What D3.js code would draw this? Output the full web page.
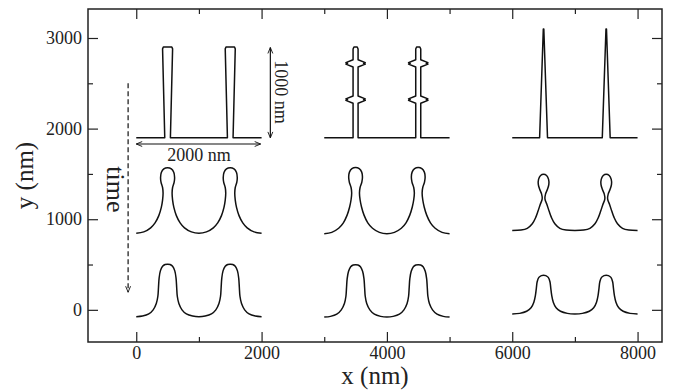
<!DOCTYPE html>
<html>
<head>
<meta charset="utf-8">
<script src="https://cdnjs.cloudflare.com/ajax/libs/d3/7.8.5/d3.min.js"></script>
<style>
  body { margin: 0; background: #fff; }
  svg text { font-family: "Liberation Serif", "Times New Roman", serif; fill: #222; }
</style>
</head>
<body>
<svg id="chart" width="679" height="390"></svg>
<script>
// axis ticks
const xTicks = [0, 2000, 4000, 6000, 8000];
const xMinor = [1000, 3000, 5000, 7000];
const yTicks = [0, 1000, 2000, 3000];
const yMinor = [500, 1500, 2500];

// one period (0..1000 nm) of each profile
// row 1: initial shapes
const taperedPillar = [[0,1900],[455,1900],[420,2880],[432,2900],[568,2900],[580,2880],[545,1900],[1000,1900]];
const notchedPillar = [[0,1900],[460,1900],[460,2280],[345,2312],[372,2320],[345,2328],[460,2360],
  [460,2680],[345,2712],[372,2720],[345,2728],[460,2760],[460,2878],[474,2900],[526,2900],[540,2878],
  [540,2760],[655,2728],[628,2720],[655,2712],[540,2680],[540,2360],[655,2328],[628,2320],[655,2312],
  [540,2280],[540,1900],[1000,1900]];
const spikePillar = [[0,1900],[437,1900],[496,3100],[504,3100],[563,1900],[1000,1900]];
// row 2: necking
const neckLeft = [[0,845],[120,860],[230,905],[300,960],[360,1040],[400,1130],[420,1210],[428,1290],
  [420,1350],[395,1410],[388,1460],[400,1515],[440,1555],[500,1568],[560,1555],[600,1515],[612,1460],
  [605,1410],[580,1350],[572,1290],[580,1210],[600,1130],[640,1040],[700,960],[770,905],[880,860],[1000,845]];
const neckMid = [[0,840],[120,855],[230,900],[305,960],[365,1045],[405,1135],[428,1215],[438,1290],
  [428,1350],[400,1410],[390,1465],[402,1520],[442,1558],[500,1570],[558,1558],[598,1520],[610,1465],
  [600,1410],[572,1350],[562,1290],[572,1215],[595,1135],[635,1045],[695,960],[770,900],[880,855],[1000,840]];
const neckRight = [[0,875],[140,880],[240,900],[320,950],[375,1020],[412,1090],[445,1160],[478,1225],
  [468,1280],[438,1330],[416,1385],[420,1440],[452,1482],[500,1496],[548,1482],[580,1440],[584,1385],
  [562,1330],[532,1280],[522,1225],[555,1160],[588,1090],[625,1020],[680,950],[760,900],[860,880],[1000,875]];
// row 3: mounds
const moundLeft = [[0,-75],[100,-68],[200,-45],[270,0],[320,70],[345,150],[355,250],[365,350],[385,430],
  [420,480],[460,500],[500,503],[540,500],[580,480],[615,430],[635,350],[645,250],[655,150],[680,70],
  [730,0],[800,-45],[900,-68],[1000,-75]];
const moundMid = [[0,-80],[100,-72],[200,-48],[272,0],[322,70],[346,150],[356,250],[366,345],[388,425],
  [422,475],[462,494],[500,497],[538,494],[578,475],[612,425],[634,345],[644,250],[654,150],[678,70],
  [728,0],[800,-48],[900,-72],[1000,-80]];
const moundRight = [[0,-45],[120,-39],[230,-16],[300,22],[345,85],[370,160],[385,240],[398,310],[425,358],
  [465,378],[500,382],[535,378],[575,358],[602,310],[615,240],[630,160],[655,85],[700,22],[770,-16],
  [880,-39],[1000,-45]];

const colOffsets = [0, 3000, 6000];
const periodShift = [0, 1000];

// [profile, column, smooth]
const panels = [
  [taperedPillar, 0, false], [notchedPillar, 1, false], [spikePillar, 2, false],
  [neckLeft, 0, true], [neckMid, 1, true], [neckRight, 2, true],
  [moundLeft, 0, true], [moundMid, 1, true], [moundRight, 2, true]
];

const svg = d3.select("#chart");
const margin = {left: 88, top: 9, right: 17, bottom: 48};
const width = 679 - margin.left - margin.right;
const height = 390 - margin.top - margin.bottom;

const x = d3.scaleLinear().domain([-770, 8390]).range([margin.left, margin.left + width]);
const y = d3.scaleLinear().domain([-355, 3320]).range([margin.top + height, margin.top]);

// markers
const defs = svg.append("defs");
defs.append("marker")
  .attr("id", "head")
  .attr("viewBox", "0 0 10 10")
  .attr("refX", 9.5).attr("refY", 5)
  .attr("markerWidth", 7).attr("markerHeight", 7)
  .attr("markerUnits", "userSpaceOnUse")
  .attr("orient", "auto-start-reverse")
  .append("path")
  .attr("d", "M1,1.5 L9.5,5 L1,8.5")
  .attr("fill", "none").attr("stroke", "#111").attr("stroke-width", 1.3);

// axes
function axisStyle(g) {
  g.select(".domain").remove();
  g.selectAll("line").attr("stroke", "#222").attr("stroke-width", 1.2);
  g.selectAll("text").style("font-size", "18px").attr("fill", "#222");
}
svg.append("g").attr("transform", `translate(0,${margin.top + height})`)
  .call(d3.axisBottom(x).tickValues(xTicks).tickSize(-10).tickPadding(4).tickFormat(d3.format("d")))
  .call(axisStyle);
svg.append("g").attr("transform", `translate(0,${margin.top + height})`)
  .call(d3.axisBottom(x).tickValues(xMinor).tickSize(-5).tickFormat(""))
  .call(axisStyle);
svg.append("g").attr("transform", `translate(0,${margin.top})`)
  .call(d3.axisTop(x).tickValues(xTicks).tickSize(-10).tickFormat(""))
  .call(axisStyle);
svg.append("g").attr("transform", `translate(0,${margin.top})`)
  .call(d3.axisTop(x).tickValues(xMinor).tickSize(-5).tickFormat(""))
  .call(axisStyle);
svg.append("g").attr("transform", `translate(${margin.left},0)`)
  .call(d3.axisLeft(y).tickValues(yTicks).tickSize(-10).tickPadding(6).tickFormat(d3.format("d")))
  .call(axisStyle);
svg.append("g").attr("transform", `translate(${margin.left},0)`)
  .call(d3.axisLeft(y).tickValues(yMinor).tickSize(-5).tickFormat(""))
  .call(axisStyle);
svg.append("g").attr("transform", `translate(${margin.left + width},0)`)
  .call(d3.axisRight(y).tickValues(yTicks).tickSize(-10).tickFormat(""))
  .call(axisStyle);
svg.append("g").attr("transform", `translate(${margin.left + width},0)`)
  .call(d3.axisRight(y).tickValues(yMinor).tickSize(-5).tickFormat(""))
  .call(axisStyle);

svg.append("rect")
  .attr("x", margin.left).attr("y", margin.top)
  .attr("width", width).attr("height", height)
  .attr("fill", "none").attr("stroke", "#222").attr("stroke-width", 1.5);

// curves
const lineSharp = d3.line().x(d => x(d[0])).y(d => y(d[1]));
const lineSmooth = d3.line().x(d => x(d[0])).y(d => y(d[1])).curve(d3.curveCatmullRom.alpha(0.5));

panels.forEach(([profile, col, smooth]) => {
  const pts = [];
  periodShift.forEach((s, i) => {
    profile.forEach((p, j) => {
      if (i > 0 && j === 0) return;
      pts.push([p[0] + colOffsets[col] + s, p[1]]);
    });
  });
  svg.append("path")
    .datum(pts)
    .attr("d", smooth ? lineSmooth : lineSharp)
    .attr("fill", "none")
    .attr("stroke", "#111")
    .attr("stroke-width", 1.5)
    .attr("stroke-linejoin", "round");
});

// annotations
svg.append("line")
  .attr("x1", x(0)).attr("y1", y(1830)).attr("x2", x(1985)).attr("y2", y(1830))
  .attr("stroke", "#111").attr("stroke-width", 1.2)
  .attr("marker-start", "url(#head)").attr("marker-end", "url(#head)");
svg.append("text")
  .attr("x", x(1000)).attr("y", y(1645))
  .attr("text-anchor", "middle").style("font-size", "18px")
  .text("2000 nm");

svg.append("line")
  .attr("x1", x(2140)).attr("y1", y(2895)).attr("x2", x(2140)).attr("y2", y(1898))
  .attr("stroke", "#111").attr("stroke-width", 1.2)
  .attr("marker-start", "url(#head)").attr("marker-end", "url(#head)");
svg.append("text")
  .attr("transform", `translate(${x(2215)},${y(2405)}) rotate(90)`)
  .attr("text-anchor", "middle").style("font-size", "18px")
  .text("1000 nm");

svg.append("line")
  .attr("x1", x(-130)).attr("y1", y(2500)).attr("x2", x(-130)).attr("y2", y(195))
  .attr("stroke", "#111").attr("stroke-width", 1.2)
  .attr("stroke-dasharray", "5,3")
  .attr("marker-end", "url(#head)");
svg.append("text")
  .attr("transform", `translate(${x(-470)},${y(1330)}) rotate(90)`)
  .attr("text-anchor", "middle").style("font-size", "26px")
  .text("time");

// axis titles
svg.append("text")
  .attr("x", margin.left + width / 2).attr("y", 384)
  .attr("text-anchor", "middle").style("font-size", "25px")
  .text("x (nm)");
svg.append("text")
  .attr("transform", `translate(33,${margin.top + height / 2}) rotate(-90)`)
  .attr("text-anchor", "middle").style("font-size", "25px")
  .text("y (nm)");
</script>
</body>
</html>
